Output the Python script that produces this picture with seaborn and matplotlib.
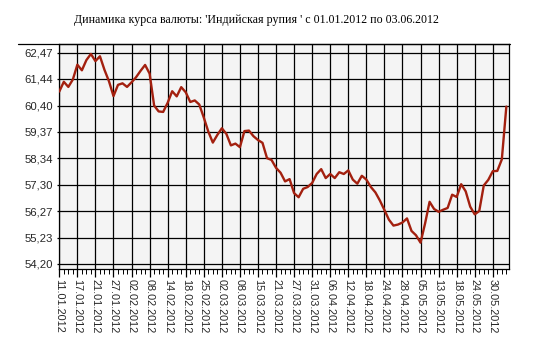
import matplotlib
matplotlib.use("Agg")
import matplotlib.pyplot as plt
from matplotlib.lines import Line2D
from matplotlib.ticker import FixedLocator, MultipleLocator
import seaborn as sns
import pandas as pd

title = "Динамика курса валюты: 'Индийская рупия ' с 01.01.2012 по 03.06.2012"

date_labels = ["11.01.2012", "17.01.2012", "21.01.2012", "27.01.2012", "02.02.2012",
               "08.02.2012", "14.02.2012", "18.02.2012", "25.02.2012", "02.03.2012",
               "08.03.2012", "15.03.2012", "21.03.2012", "27.03.2012", "31.03.2012",
               "06.04.2012", "12.04.2012", "18.04.2012", "24.04.2012", "28.04.2012",
               "05.05.2012", "13.05.2012", "18.05.2012", "24.05.2012", "30.05.2012"]

y_ticks = [54.20, 55.23, 56.27, 57.30, 58.34, 59.37, 60.40, 61.44, 62.47]
y_tick_labels = ["54,20", "55,23", "56,27", "57,30", "58,34", "59,37", "60,40", "61,44", "62,47"]

rate = [60.95, 61.33, 61.13, 61.42, 62.00, 61.78, 62.18, 62.42, 62.14, 62.33,
        61.80, 61.35, 60.77, 61.21, 61.27, 61.13, 61.31, 61.51, 61.76, 61.99,
        61.65, 60.40, 60.17, 60.15, 60.51, 60.96, 60.76, 61.12, 60.92, 60.54,
        60.60, 60.44, 59.93, 59.38, 58.95, 59.25, 59.51, 59.29, 58.84, 58.91,
        58.77, 59.40, 59.42, 59.20, 59.05, 58.94, 58.34, 58.27, 57.96, 57.77,
        57.43, 57.52, 56.97, 56.81, 57.14, 57.21, 57.37, 57.72, 57.91, 57.56,
        57.72, 57.56, 57.79, 57.72, 57.86, 57.50, 57.34, 57.65, 57.50, 57.21,
        57.00, 56.68, 56.31, 55.93, 55.70, 55.74, 55.82, 55.98, 55.49, 55.32,
        55.03, 55.78, 56.63, 56.35, 56.24, 56.32, 56.39, 56.91, 56.82, 57.32,
        57.04, 56.44, 56.14, 56.27, 57.27, 57.49, 57.83, 57.84, 58.29, 60.36]

df = pd.DataFrame({"idx": list(range(len(rate))), "rate": rate})

sns.set_theme(style="white")
plt.rcParams["font.family"] = ["Liberation Sans", "DejaVu Sans"]

W, H = 537, 351
fig = plt.figure(figsize=(W / 100, H / 100), dpi=100)
fig.patch.set_facecolor("white")
left, right, top, bottom = 59.3, 509.5, 44, 269
ax = fig.add_axes([left / W, (H - bottom) / H, (right - left) / W, (bottom - top) / H])
ax.set_facecolor("#f4f4f4")

sns.lineplot(data=df, x="idx", y="rate", ax=ax, color="#a3200f", linewidth=1.7, zorder=3)

ax.set_xlim(0, 99.7)
ax.set_ylim(54.0, 62.81)

major_x = list(range(0, 4 * len(date_labels), 4))
ax.xaxis.set_major_locator(FixedLocator(major_x))
ax.set_xticklabels(date_labels, rotation=270, fontsize=7.8, va="top", ha="center")
ax.xaxis.set_minor_locator(MultipleLocator(1))
ax.set_yticks(y_ticks)
ax.set_yticklabels(y_tick_labels, fontsize=8.2)

ax.grid(True, which="major", axis="both", color="black", linewidth=0.9)
ax.set_axisbelow(True)
ax.tick_params(axis="x", which="major", direction="out", length=6, width=0.9,
               color="black", pad=1.5, bottom=True)
ax.tick_params(axis="x", which="minor", direction="out", length=3.5, width=0.7,
               color="black", bottom=True)
ax.tick_params(axis="y", which="major", direction="out", length=1.5, width=0.9,
               color="black", pad=3, left=True)
for s in ax.spines.values():
    s.set_visible(True)
    s.set_color("black")
    s.set_linewidth(0.9)
ax.set_xlabel("")
ax.set_ylabel("")

# top frame line extending to the left
fig.add_artist(Line2D([18 / W, right / W], [(H - top) / H, (H - top) / H],
                      color="black", linewidth=0.9))

fig.text(256 / W, 1 - 20 / H, title, ha="center", va="center", fontsize=8.6,
         family=["Liberation Serif", "DejaVu Serif"], color="black")

fig.savefig("out.png", dpi=100)
